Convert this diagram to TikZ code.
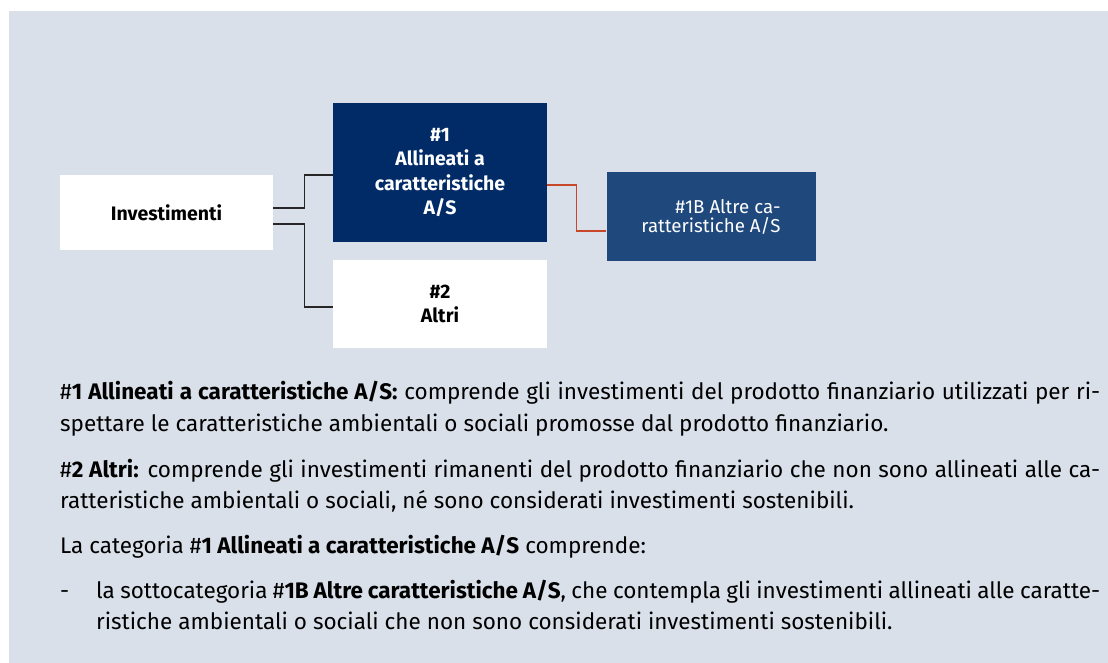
\documentclass[tikz,border=0pt]{standalone}
\usepackage{fontspec}
\setmainfont{Fira Sans}
\usepackage{tikz}
\usetikzlibrary{calc}

\definecolor{panelbg}{HTML}{D9E0EA}
\definecolor{navy}{HTML}{002B66}
\definecolor{midblue}{HTML}{1F487D}
\definecolor{rust}{HTML}{C8462A}

\tikzset{
    catbox/.style={inner sep=0pt, align=center, font=\fontsize{19.5}{24.5}\selectfont\bfseries},
    para/.style={anchor=base west, inner sep=0pt, font=\fontsize{22.5}{26}\selectfont},
    wire/.style={draw=black!85, line width=1.1pt},
}

\begin{document}
\begin{tikzpicture}[x=1pt, y=-1pt]
    \useasboundingbox (0,0) rectangle (1108,663);
    \fill[panelbg] (9,11) rectangle (1108,663);

    \node[catbox, fill=white, minimum width=213pt, minimum height=75pt] (inv) at (166.5,212.5) {Investimenti};
    \node[catbox, fill=navy, text=white, minimum width=214pt, minimum height=139pt] (alli) at (440,172.5) {\#1\\Allineati a\\caratteristiche\\A/S};
    \node[catbox, fill=white, minimum width=214pt, minimum height=88pt] (altri) at (440,304) {\#2\\Altri};
    \node[catbox, fill=midblue, text=white, minimum width=209pt, minimum height=89pt, align=right,
          font=\fontsize{18.7}{19}\selectfont] (altre) at (711,216.5) {\#1B Altre ca-\\ratteristiche A/S};

    \draw[wire] ([yshift=4.5pt]inv.east) -- ++(31,0) |- ([yshift=-2.5pt]alli.west);
    \draw[wire] ([yshift=-11.5pt]inv.east) -- ++(31,0) |- ([yshift=-3pt]altri.west);
    \draw[wire, draw=rust] ([yshift=-12.5pt]alli.east) -- ++(29,0) |- ([yshift=-14.5pt]altre.west);

    % testo sotto lo schema
    \node[para] (p1a) at (60,399) {\hbox to 1040pt{\#\textbf{1 Allineati a caratteristiche A/S:} comprende gli investimenti del prodotto finanziario utilizzati per ri-}};
    \node[para] (p1b) at (60,431) {spettare le caratteristiche ambientali o sociali promosse dal prodotto finanziario.};
    \node[para] (p2a) at (60,477) {\hbox to 1040pt{\#\textbf{2 Altri:} comprende gli investimenti rimanenti del prodotto finanziario che non sono allineati alle ca-}};
    \node[para] (p2b) at (60,508) {ratteristiche ambientali o sociali, né sono considerati investimenti sostenibili.};
    \node[para] (p3) at (60,553) {La categoria \#\textbf{1 Allineati a caratteristiche A/S} comprende:};
    \node[para] (dash) at (60,598) {-};
    \node[para] (p4a) at (96,598) {\hbox to 1004pt{la sottocategoria \#\textbf{1B Altre caratteristiche A/S}, che contempla gli investimenti allineati alle caratte-}};
    \node[para] (p4b) at (96,629) {ristiche ambientali o sociali che non sono considerati investimenti sostenibili.};
\end{tikzpicture}
\end{document}
